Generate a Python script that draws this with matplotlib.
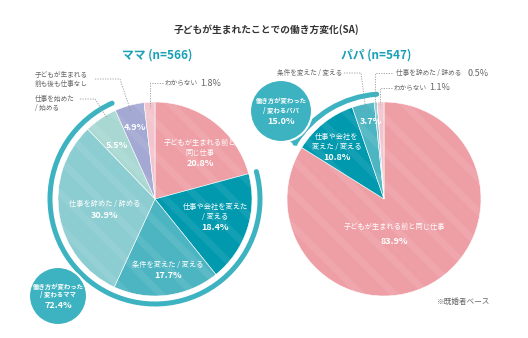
import matplotlib
matplotlib.use('Agg')
import matplotlib.pyplot as plt
from matplotlib.patches import Arc, Circle, Polygon
import numpy as np

plt.rcParams['font.family'] = ['Noto Sans CJK JP', 'DejaVu Sans']
plt.rcParams['hatch.linewidth'] = 5.0

# データ
categories = ['子どもが生まれる前と同じ仕事', '仕事や会社を変えた / 変える', '条件を変えた / 変える',
              '仕事を辞めた / 辞める', '仕事を始めた / 始める', '子どもが生まれる前も後も仕事なし', 'わからない']
mama_values = [20.8, 18.4, 17.7, 30.9, 5.5, 4.9, 1.8]
papa_values = [83.9, 10.8, 3.7, 0.5, 0.0, 0.0, 1.1]
mama_changed = 72.4
papa_changed = 15.0
mama_n = 566
papa_n = 547
colors = ['#EE9FA6', '#0099AE', '#4DB5C2', '#8CCDD2', '#A9D8D3', '#A3A9D3', '#F2C4CE']
changed_idx = [1, 2, 3, 4]   # 働き方が変わった に含まれる項目

TEAL = '#3DB3C1'
GRAY = '#666666'
W, H = 528, 338

fig = plt.figure(figsize=(W / 100, H / 100), dpi=100)
ax = fig.add_axes([0, 0, 1, 1])
ax.set_xlim(0, W)
ax.set_ylim(0, H)
ax.set_aspect('equal')
ax.axis('off')


def py(y):
    # 画像座標(上から) -> 軸座標
    return H - y


def draw_pie(values, cx, cy, r):
    ax.pie(values, colors=colors, startangle=90, counterclock=False,
           center=(cx, py(cy)), radius=r, frame=True,
           wedgeprops=dict(edgecolor='white', linewidth=0.4))
    # うすいストライプ
    ax.pie(values, colors=['none'] * len(values), startangle=90, counterclock=False,
           center=(cx, py(cy)), radius=r, frame=True,
           wedgeprops=dict(edgecolor=(1, 1, 1, 0.08), linewidth=0, hatch='\\'))
    # 働き方が変わった の弧
    cum = np.cumsum([0] + list(values)) / sum(values) * 360
    a_start = 90 - cum[changed_idx[-1] + 1]
    a_end = 90 - cum[changed_idx[0]]
    arc = Arc((cx, py(cy)), 2 * (r + 8), 2 * (r + 8), theta1=a_start, theta2=a_end,
              color=TEAL, linewidth=3.6, capstyle='round', zorder=3)
    ax.add_patch(arc)


def bubble(cx, cy, r, who, pct):
    ax.add_patch(Circle((cx, py(cy)), r, facecolor=TEAL, edgecolor='white',
                        linewidth=1.5, zorder=4))
    ax.text(cx, py(cy - 10), '働き方が変わった', color='white', fontsize=4.6,
            fontweight='bold', ha='center', va='center', zorder=5)
    ax.text(cx, py(cy - 1), '/ 変わる' + who, color='white', fontsize=4.6,
            fontweight='bold', ha='center', va='center', zorder=5)
    ax.text(cx, py(cy + 10), f'{pct:.1f}%', color='white', fontsize=6.5,
            fontweight='bold', ha='center', va='center', zorder=5)


def leader(pts):
    xs = [p[0] for p in pts]
    ys = [py(p[1]) for p in pts]
    ax.plot(xs, ys, color='#999999', linewidth=0.6, linestyle=(0, (1.5, 1.5)), zorder=6)


def inlabel(x, y, lines, pct):
    for i, s in enumerate(lines):
        ax.text(x, py(y + i * 10), s, color='white', fontsize=5.2,
                ha='center', va='center', zorder=5)
    ax.text(x, py(y + len(lines) * 10 + 1), f'{pct:.1f}%', color='white', fontsize=6.5,
            fontweight='bold', ha='center', va='center', zorder=5)


# タイトル
ax.text(266, py(30), '子どもが生まれたことでの働き方変化(SA)', fontsize=7, fontweight='bold',
        color='#333333', ha='center', va='center')
ax.text(157, py(55), f'ママ (n={mama_n})', fontsize=8.5, fontweight='bold',
        color='#1AA0B5', ha='center', va='center')
ax.text(376, py(55), f'パパ (n={papa_n})', fontsize=8.5, fontweight='bold',
        color='#1AA0B5', ha='center', va='center')

# ママ
draw_pie(mama_values, 155, 199, 97)
bubble(58, 296, 29, 'ママ', mama_changed)
inlabel(200, 143, ['子どもが生まれる前と', '同じ仕事'], mama_values[0])
inlabel(215, 207, ['仕事や会社を変えた', '/ 変える'], mama_values[1])
inlabel(168, 265, ['条件を変えた / 変える'], mama_values[2])
inlabel(105, 204, ['仕事を辞めた / 辞める'], mama_values[3])
ax.text(117, py(146), f'{mama_values[4]:.1f}%', color='white', fontsize=6.5,
        fontweight='bold', ha='center', va='center', zorder=5)
ax.text(135, py(128), f'{mama_values[5]:.1f}%', color='white', fontsize=6.5,
        fontweight='bold', ha='center', va='center', zorder=5)

ax.text(35, py(75), '子どもが生まれる', fontsize=4.8, color=GRAY, va='center')
ax.text(35, py(84), '前も後も仕事なし', fontsize=4.8, color=GRAY, va='center')
leader([(95, 79), (120, 79), (131, 112)])
ax.text(35, py(99), '仕事を始めた', fontsize=4.8, color=GRAY, va='center')
ax.text(35, py(108), '/ 始める', fontsize=4.8, color=GRAY, va='center')
leader([(80, 99), (95, 99), (107, 118)])
ax.text(165, py(83), 'わからない', fontsize=4.8, color=GRAY, va='center')
ax.text(200, py(83), f'{mama_values[6]:.1f}%', fontsize=6.5, color=GRAY, va='center')
leader([(163, 83), (150, 83), (150, 108)])

# パパ
draw_pie(papa_values, 384, 199, 97)
# 吹き出しのしっぽ
tail = Polygon([(py_x, py(py_y)) for py_x, py_y in [(286, 139), (300, 131), (297, 146)]],
               closed=True, facecolor=TEAL, edgecolor='none', zorder=3)
ax.add_patch(tail)
bubble(281, 111, 31, 'パパ', papa_changed)
ax.text(394, py(227), categories[0], color='white', fontsize=5.2,
        ha='center', va='center', zorder=5)
ax.text(394, py(241), f'{papa_values[0]:.1f}%', color='white', fontsize=6.5,
        fontweight='bold', ha='center', va='center', zorder=5)
inlabel(337, 137, ['仕事や会社を', '変えた / 変える'], papa_values[1])
ax.text(371, py(122), f'{papa_values[2]:.1f}%', color='white', fontsize=6.5,
        fontweight='bold', ha='center', va='center', zorder=5)

ax.text(342, py(73), '条件を変えた / 変える', fontsize=4.8, color=GRAY, ha='right', va='center')
leader([(344, 73), (361, 73), (366, 112)])
ax.text(396, py(73), '仕事を辞めた / 辞める', fontsize=4.8, color=GRAY, va='center')
ax.text(467, py(73), f'{papa_values[3]:.1f}%', fontsize=6.5, color=GRAY, va='center')
leader([(392, 73), (375, 73), (375, 102)])
ax.text(394, py(88), 'わからない', fontsize=4.8, color=GRAY, va='center')
ax.text(429, py(88), f'{papa_values[6]:.1f}%', fontsize=6.5, color=GRAY, va='center')
leader([(392, 88), (380, 88), (380, 104)])

ax.text(437, py(302), '※既婚者ベース', fontsize=5.5, color=GRAY, va='center')

ax.set_xlim(0, W)
ax.set_ylim(0, H)
fig.savefig('out.png', dpi=100)
